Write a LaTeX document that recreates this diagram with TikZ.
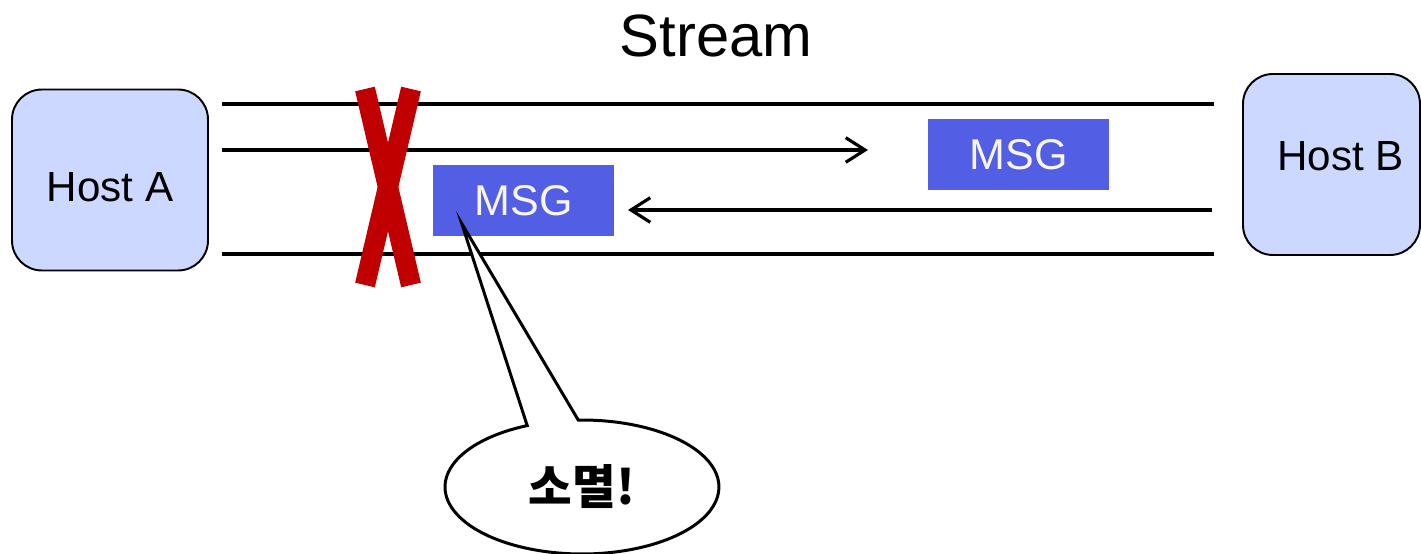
\documentclass[tikz,border=0pt]{standalone}
\usepackage{fontspec}
\setmainfont{Liberation Sans}
\newfontfamily\krfont{Noto Sans CJK KR}
\usetikzlibrary{arrows.meta,positioning,shapes,shapes.callouts,calc}
\definecolor{hostfill}{HTML}{CCD8FF}
\definecolor{msgfill}{HTML}{525EE4}
\definecolor{msgtext}{HTML}{F8F4EE}
\definecolor{cutred}{HTML}{C00000}

\begin{document}
\begin{tikzpicture}[x=0.02cm, y=0.02cm,
  host node/.style={draw, fill=hostfill, line width=1.1pt, rounded corners=17pt, minimum height=3.62cm, inner sep=0pt},
  host text/.style={font=\fontsize{24}{28}\selectfont},
  msg node/.style={fill=msgfill, text=msgtext, minimum width=3.62cm, minimum height=1.42cm, inner sep=0pt, font=\fontsize{24.5}{29}\selectfont},
  pipe/.style={line width=2.3pt},
  flow/.style={line width=1.8pt, -{Straight Barb[length=11pt,width=14pt]}},
  cut/.style={cutred, line width=11.5pt},
  bubble/.style={ellipse callout, draw, fill=white, line width=1.7pt, minimum width=5.48cm, minimum height=2.68cm, inner sep=0pt, callout pointer arc=22, font=\krfont\bfseries\fontsize{27}{31}\selectfont}]
\useasboundingbox (0,0) rectangle (1421,554);
\begin{scope}
\node (title) at (716,518) {\fontsize{34}{40}\selectfont Stream};
\node[host node, minimum width=3.92cm] (A) at (110,374) {};
\node[host text] (Atext) at ($(A)+(0,-7)$) {Host A};
\node[host node, minimum width=3.54cm] (B) at (1331.5,389.5) {};
\node[host text] (Btext) at ($(B)+(9,8)$) {Host B};
\node[msg node] (msgB) at (1018.5,399.5) {MSG};
\node[msg node] (msgA) at (523.5,353.5) {MSG};
\end{scope}
\coordinate (topL) at (222,450);
\coordinate (topR) at (1214,450);
\coordinate (botL) at (222,300);
\coordinate (botR) at (1214,300);
\coordinate (sendL) at (222,404);
\coordinate (sendR) at (868,404);
\coordinate (backR) at (1212,344);
\coordinate (backL) at (628,344);
\begin{scope}
\draw[pipe] (topL) -- (topR);
\draw[pipe] (botL) -- (botR);
\draw[flow] (sendL) -- (sendR);
\draw[flow] (backR) -- (backL);
\draw[cut] (365,465) -- (411,269);
\draw[cut] (411,465) -- (365,269);
\end{scope}
\coordinate (tip) at ($(msgA.south west)+(29,13)$);
\node[bubble, callout absolute pointer={(tip)}] (gone) at (582,67) {소멸!};
\end{tikzpicture}
\end{document}
